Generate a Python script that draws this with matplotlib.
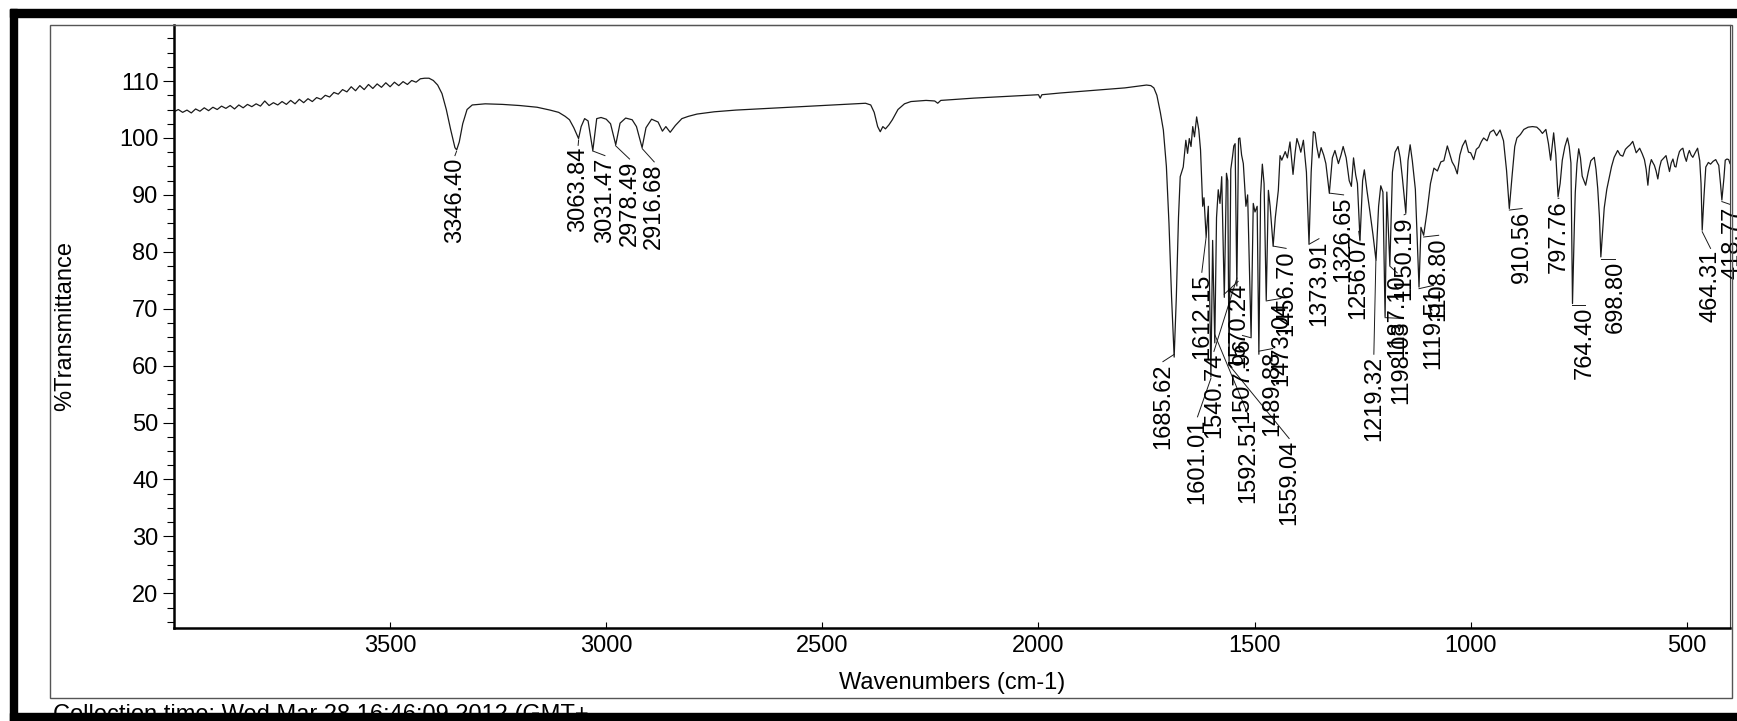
import numpy as np
import matplotlib.pyplot as plt
from matplotlib.patches import Rectangle
from matplotlib.ticker import MultipleLocator

# spectrum as (wavenumber cm-1, %T) pairs, region by region
noisy_base = [(4000, 104.6), (3990, 105.0), (3980, 104.5), (3970, 104.9), (3960, 104.4),
              (3950, 105.1), (3940, 104.7), (3930, 105.3), (3920, 104.8), (3910, 105.4),
              (3900, 105.0), (3890, 105.6), (3880, 105.2), (3870, 105.7), (3860, 105.1),
              (3850, 105.8), (3840, 105.3), (3830, 105.9), (3820, 105.5), (3810, 106.0),
              (3800, 105.6), (3790, 106.5), (3780, 105.7), (3770, 106.2), (3760, 105.8),
              (3750, 106.4), (3740, 105.9), (3730, 106.6), (3720, 106.0), (3710, 106.8),
              (3700, 106.2), (3690, 106.9), (3680, 106.4), (3670, 107.1), (3660, 106.8),
              (3650, 107.5), (3640, 107.2), (3630, 108.0), (3620, 107.7), (3610, 108.5),
              (3600, 108.1), (3590, 109.0), (3580, 108.3), (3570, 109.2), (3560, 108.5),
              (3550, 109.4), (3540, 108.7), (3530, 109.5), (3520, 108.9), (3510, 109.7),
              (3500, 109.0), (3490, 109.8), (3480, 109.2), (3470, 109.9), (3460, 109.4),
              (3450, 110.1), (3440, 109.8), (3430, 110.4), (3420, 110.5), (3410, 110.5),
              (3400, 110.1)]

high_wn = [(3390, 109.3), (3380, 107.8), (3370, 105.0), (3360, 101.5), (3350, 98.3),
           (3346, 97.9), (3340, 99.3), (3332, 102.5), (3322, 105.0), (3310, 105.8),
           (3280, 106.0), (3240, 105.9), (3200, 105.7), (3160, 105.4), (3130, 104.9),
           (3110, 104.5), (3095, 103.8), (3085, 103.2), (3075, 101.8), (3064, 99.9),
           (3058, 102.0), (3050, 103.4), (3042, 103.0), (3031, 97.8), (3022, 103.4),
           (3012, 103.6), (3000, 103.3), (2990, 102.5), (2978, 98.8), (2968, 102.6),
           (2955, 103.5), (2940, 103.2), (2930, 102.0), (2917, 98.3), (2908, 101.8),
           (2895, 103.3), (2880, 102.8), (2870, 101.2), (2862, 102.0), (2852, 101.0),
           (2840, 102.2), (2825, 103.4), (2810, 103.8), (2790, 104.2), (2750, 104.6),
           (2700, 104.9), (2650, 105.1), (2600, 105.3), (2550, 105.5), (2500, 105.7),
           (2450, 105.9), (2400, 106.1), (2388, 105.8), (2380, 104.5), (2372, 102.0),
           (2366, 101.1), (2360, 102.0), (2354, 101.6), (2346, 102.3), (2338, 103.2),
           (2325, 105.0), (2310, 106.0), (2295, 106.4), (2260, 106.6), (2240, 106.5),
           (2233, 106.1), (2226, 106.6), (2150, 107.0), (2100, 107.2), (2050, 107.4),
           (2000, 107.6), (1996, 107.0), (1992, 107.6), (1950, 107.9), (1900, 108.2),
           (1850, 108.5), (1800, 108.8), (1770, 109.1), (1750, 109.3), (1740, 109.2),
           (1733, 108.8), (1726, 107.5), (1718, 104.5), (1711, 101.4), (1704, 95.0),
           (1698, 85.0)]

double_bond = [(1692, 72.0), (1686, 61.5), (1681, 72.0), (1676, 86.0), (1672, 93.2),
               (1665, 94.9), (1659, 99.6), (1655, 97.3), (1651, 99.9), (1647, 98.5),
               (1643, 102.0), (1639, 100.2), (1634, 103.7), (1629, 101.4), (1625, 97.9),
               (1620, 88.0), (1617, 89.5), (1612, 82.6), (1607, 88.0), (1601, 58.0),
               (1597, 82.0), (1592, 64.0), (1588, 86.0), (1584, 90.9), (1580, 88.5),
               (1576, 93.2), (1570, 72.0), (1565, 93.8), (1562, 92.5), (1559, 60.0),
               (1555, 94.5), (1551, 96.7), (1548, 98.6), (1545, 99.0), (1541, 74.0),
               (1537, 99.9), (1534, 100.0), (1530, 97.0), (1526, 95.5), (1520, 88.0),
               (1516, 90.0), (1508, 65.0), (1503, 88.5), (1499, 87.0), (1494, 88.0),
               (1490, 62.0), (1486, 90.0), (1482, 95.4), (1478, 92.0), (1473, 71.5),
               (1468, 90.8), (1464, 88.0), (1457, 81.0), (1452, 86.0), (1445, 90.8),
               (1441, 96.9), (1437, 96.1), (1429, 97.6), (1424, 96.5), (1418, 99.3),
               (1411, 93.6), (1406, 97.5), (1402, 99.9), (1397, 98.7), (1393, 97.5),
               (1387, 99.6), (1380, 94.0), (1374, 81.4), (1369, 94.0)]

fingerprint = [(1364, 101.1), (1360, 100.9), (1356, 98.5), (1351, 96.5), (1346, 98.3),
               (1340, 97.0), (1335, 95.5), (1327, 90.3), (1320, 96.5), (1314, 97.8),
               (1306, 95.5), (1300, 97.0), (1295, 98.5), (1288, 96.5), (1281, 92.5),
               (1276, 91.5), (1271, 96.5), (1266, 93.5), (1262, 92.0), (1256, 82.1),
               (1250, 92.5), (1246, 94.4), (1240, 90.8), (1233, 87.0), (1226, 83.0),
               (1219, 78.5), (1213, 88.0), (1208, 91.6), (1203, 90.5), (1198, 68.6),
               (1194, 90.5), (1187, 77.6), (1181, 94.0), (1175, 97.5), (1168, 98.5),
               (1163, 96.5), (1158, 93.0), (1150, 86.8), (1145, 96.0), (1140, 98.8),
               (1135, 96.0), (1128, 91.0), (1119.5, 73.8), (1115, 84.3), (1108.8, 82.9),
               (1101, 87.0), (1093, 92.0), (1085, 94.7), (1077, 94.2), (1069, 95.8),
               (1062, 96.0), (1054, 98.6), (1043, 95.8), (1037, 95.0), (1031, 93.7),
               (1025, 97.0), (1019, 98.6), (1012, 99.6), (1005, 97.5), (1000, 97.4),
               (993, 96.2), (987, 98.0), (981, 98.4), (975, 99.4), (970, 100.0),
               (962, 99.5), (955, 101.0), (947, 101.4), (940, 100.4), (932, 101.4),
               (924, 99.5), (917, 94.3), (910.6, 87.6), (904, 93.5), (898, 98.5),
               (893, 100.0), (885, 100.6), (877, 101.5), (867, 101.9), (857, 102.0),
               (847, 101.9), (840, 101.4), (834, 100.8), (826, 101.5), (820, 99.0),
               (815, 96.1), (808, 100.9), (803, 97.0), (797.8, 89.7), (793, 92.0),
               (788, 96.1), (782, 98.5), (776, 100.0), (772, 98.5), (768, 95.6),
               (764.4, 70.9), (760, 85.0), (758, 90.4), (754, 95.5), (750, 98.1),
               (746, 96.5), (742, 93.3), (734, 91.7), (728, 94.0), (722, 96.0),
               (714, 96.6), (710, 94.5), (706, 91.1), (702, 86.0), (698.8, 79.1),
               (694, 84.5), (691, 87.7), (685, 91.0), (679, 93.2), (674, 95.0),
               (668, 96.6), (660, 97.8), (654, 97.0), (648, 96.8), (642, 98.0),
               (637, 98.4), (631, 98.8), (625, 99.4), (617, 97.4), (613, 97.8),
               (609, 98.2), (603, 97.2), (598, 96.2), (594, 94.5), (590, 91.7),
               (586, 95.0), (582, 96.2), (578, 95.6), (575, 95.2), (571, 94.2),
               (567, 92.8), (563, 94.8), (559, 96.0), (553, 96.5), (548, 96.9),
               (544, 95.5), (540, 94.1), (536, 95.6), (532, 96.3), (528, 95.0),
               (525, 94.9), (521, 96.5), (517, 97.6), (513, 98.0), (509, 98.2),
               (505, 96.8), (501, 95.9), (497, 97.2), (494, 97.8), (490, 97.0),
               (486, 96.6), (480, 97.5), (475, 98.2), (470, 96.0), (467, 92.0),
               (464.3, 83.8), (460, 90.0), (456, 94.9), (450, 95.7), (445, 95.4),
               (439, 95.9), (433, 96.2), (429, 95.6), (426, 95.2), (422, 92.0),
               (418.8, 89.1), (414, 93.0), (411, 96.1), (407, 96.3), (403, 96.2),
               (400, 95.5)]

# peak picks printed on the chart
peak_wn = [3346.40, 3063.84, 3031.47, 2978.49, 2916.68, 1685.62, 1612.15, 1601.01, 1592.51,
           1570.24, 1559.04, 1540.74, 1507.96, 1489.88, 1473.04, 1456.70, 1373.91, 1326.65,
           1256.07, 1219.32, 1198.03, 1187.10, 1150.19, 1119.51, 1108.80, 910.56, 797.76,
           764.40, 698.80, 464.31, 418.77]
peak_text = ["%.2f" % p for p in peak_wn]

# where each label sits (x in cm-1, top of label in %T)
lab_x = [3350, 3065, 3003, 2946, 2889, 1712, 1622, 1632, 1514,
         1538, 1420, 1594, 1528, 1458, 1439, 1427, 1351, 1294,
         1259, 1224, 1161, 1170, 1154, 1086, 1074, 881, 796,
         735, 665, 445, 395]
lab_top = [96.6, 98.4, 96.6, 96.0, 95.5, 60.4, 76.1, 50.7, 50.9,
           74.5, 46.9, 62.2, 65.0, 62.7, 71.5, 80.3, 82.0, 89.7,
           83.3, 61.7, 68.0, 76.0, 86.2, 73.8, 82.6, 87.3, 89.1,
           70.3, 78.5, 80.3, 87.9]

pts = noisy_base + high_wn + double_bond + fingerprint
wn = np.array([p[0] for p in pts])
trans = np.array([p[1] for p in pts])

W, H = 1737, 721
plt.rcParams['font.family'] = ['Liberation Sans', 'DejaVu Sans']
fig = plt.figure(figsize=(W / 100, H / 100), dpi=100)
fig.patch.set_facecolor('white')

def fx(p):
    return p / W

def fy(p):
    return 1 - p / H

ax = fig.add_axes([fx(174), fy(628), fx(1730) - fx(174), fy(25) - fy(628)])
ax.plot(wn, trans, color='#1a1a1a', lw=0.9)
ax.set_xlim(4000, 400)
ax.set_ylim(13.9, 119.85)

ax.set_yticks(range(20, 111, 10))
ax.yaxis.set_minor_locator(MultipleLocator(2.5))
ax.set_xticks([3500, 3000, 2500, 2000, 1500, 1000, 500])
ax.tick_params(axis='y', which='major', direction='out', length=7.7, width=0.8,
               labelsize=17, pad=3.5)
ax.tick_params(axis='y', which='minor', direction='out', length=5, width=0.8)
ax.tick_params(axis='x', which='major', direction='in', length=4, width=0.8,
               labelsize=17, pad=5)
for s in ['left', 'bottom']:
    ax.spines[s].set_linewidth(1.8)
for s in ['top', 'right']:
    ax.spines[s].set_linewidth(0.8)
    ax.spines[s].set_color('#444444')

ax.set_xlabel('Wavenumbers (cm-1)', fontsize=17)
ax.xaxis.label.set_va('center')
ax.xaxis.set_label_coords(0.5, -0.0912)
ax.set_ylabel('%Transmittance', fontsize=17)
ax.yaxis.label.set_va('center')
ax.yaxis.set_label_coords(-0.070, 0.5)

# peak labels with leader lines
tip = np.interp(peak_wn, wn[::-1], trans[::-1])
for p, t, lx, ly, txt in zip(peak_wn, tip, lab_x, lab_top, peak_text):
    ax.plot([p, lx], [t - 0.3, ly + 0.3], color='#1a1a1a', lw=0.7)
    ax.text(lx, ly, txt, rotation=90, ha='center', va='top', fontsize=17,
            clip_on=False)

# scanned page: outer frame, black edges, footer
fig.add_artist(Rectangle((fx(50), fy(698)), fx(1732) - fx(50), fy(25) - fy(698),
                         transform=fig.transFigure, fill=False, ec='#555555', lw=1))
fig.text(fx(53), fy(704), 'Collection time: Wed Mar 28 16:46:09 2012 (GMT+',
         fontsize=17, va='top', ha='left', zorder=1)
for x0, y0, x1, y1 in [(10, 9, W, 17), (10, 9, 17, H), (10, 713, W, H)]:
    fig.add_artist(Rectangle((fx(x0), fy(y1)), fx(x1) - fx(x0), fy(y0) - fy(y1),
                             transform=fig.transFigure, color='black', zorder=10))

fig.savefig('out.png', dpi=100)
